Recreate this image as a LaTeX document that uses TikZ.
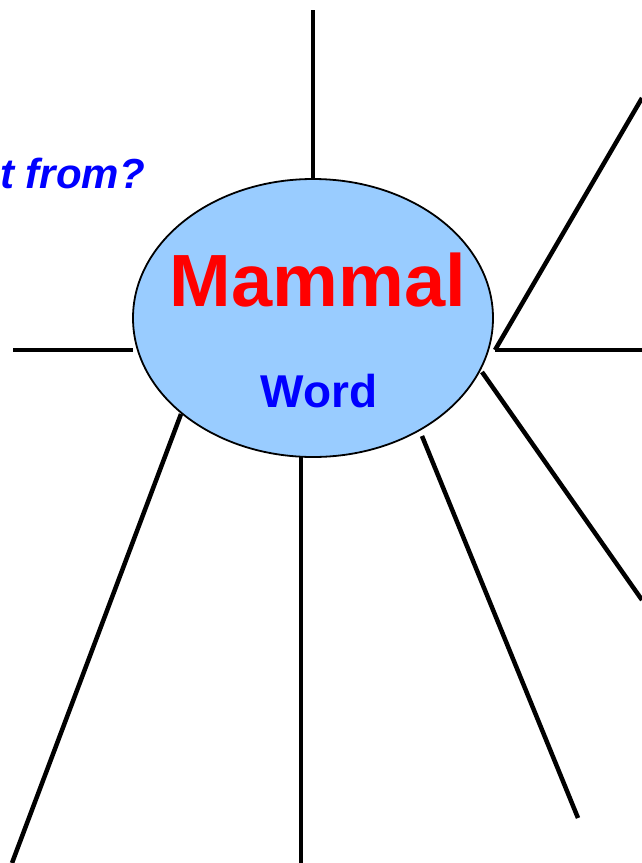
\documentclass[tikz,border=0pt]{standalone}
\usepackage{fontspec}
\setmainfont{Liberation Sans}
\usetikzlibrary{shapes.geometric}
\definecolor{ovalblue}{RGB}{153,204,255}
\definecolor{pureblue}{RGB}{0,0,255}
\definecolor{purered}{RGB}{255,0,0}
\begin{document}
\begin{tikzpicture}[x=1pt,y=-1pt,
  spoke/.style={line width=4.5pt,black},
  oval/.style={ellipse,draw=black,line width=1.8pt,fill=ovalblue,minimum width=360pt,minimum height=278pt,inner sep=0pt}]
\useasboundingbox (0,0) rectangle (642,863);
\node[oval] (m) at (313,318) {};
\node[anchor=base,text=purered,font=\bfseries\fontsize{74}{80}\selectfont,inner sep=0pt] (t1) at (318,306) {Mammal};
\node[anchor=base,text=pureblue,font=\bfseries\fontsize{46}{50}\selectfont,inner sep=0pt] (t2) at (319,407) {Word};
\node[anchor=base east,text=pureblue,font=\bfseries\itshape\fontsize{42}{46}\selectfont,inner sep=0pt] (q) at (145,188) {t from?};
% spoke ends
\coordinate (top) at (313,10);
\coordinate (mt) at (313,179);
\coordinate (lh) at (13,350);
\coordinate (ml) at (133,350);
\coordinate (rj) at (495,350);
\coordinate (rh) at (642,350);
\coordinate (ru) at (642,98);
\coordinate (mr) at (482,372);
\coordinate (rl) at (642,600);
\coordinate (mbl) at (181,414);
\coordinate (bl) at (12,863);
\coordinate (mb) at (301,457);
\coordinate (b) at (301,863);
\coordinate (mbr) at (422,436);
\coordinate (br) at (578,818);
\draw[spoke] (top) -- (mt);
\draw[spoke] (lh) -- (ml);
\draw[spoke] (rj) -- (rh);
\draw[spoke] (rj) -- (ru);
\draw[spoke] (mr) -- (rl);
\draw[spoke] (mbl) -- (bl);
\draw[spoke] (mb) -- (b);
\draw[spoke] (mbr) -- (br);
\end{tikzpicture}
\end{document}
